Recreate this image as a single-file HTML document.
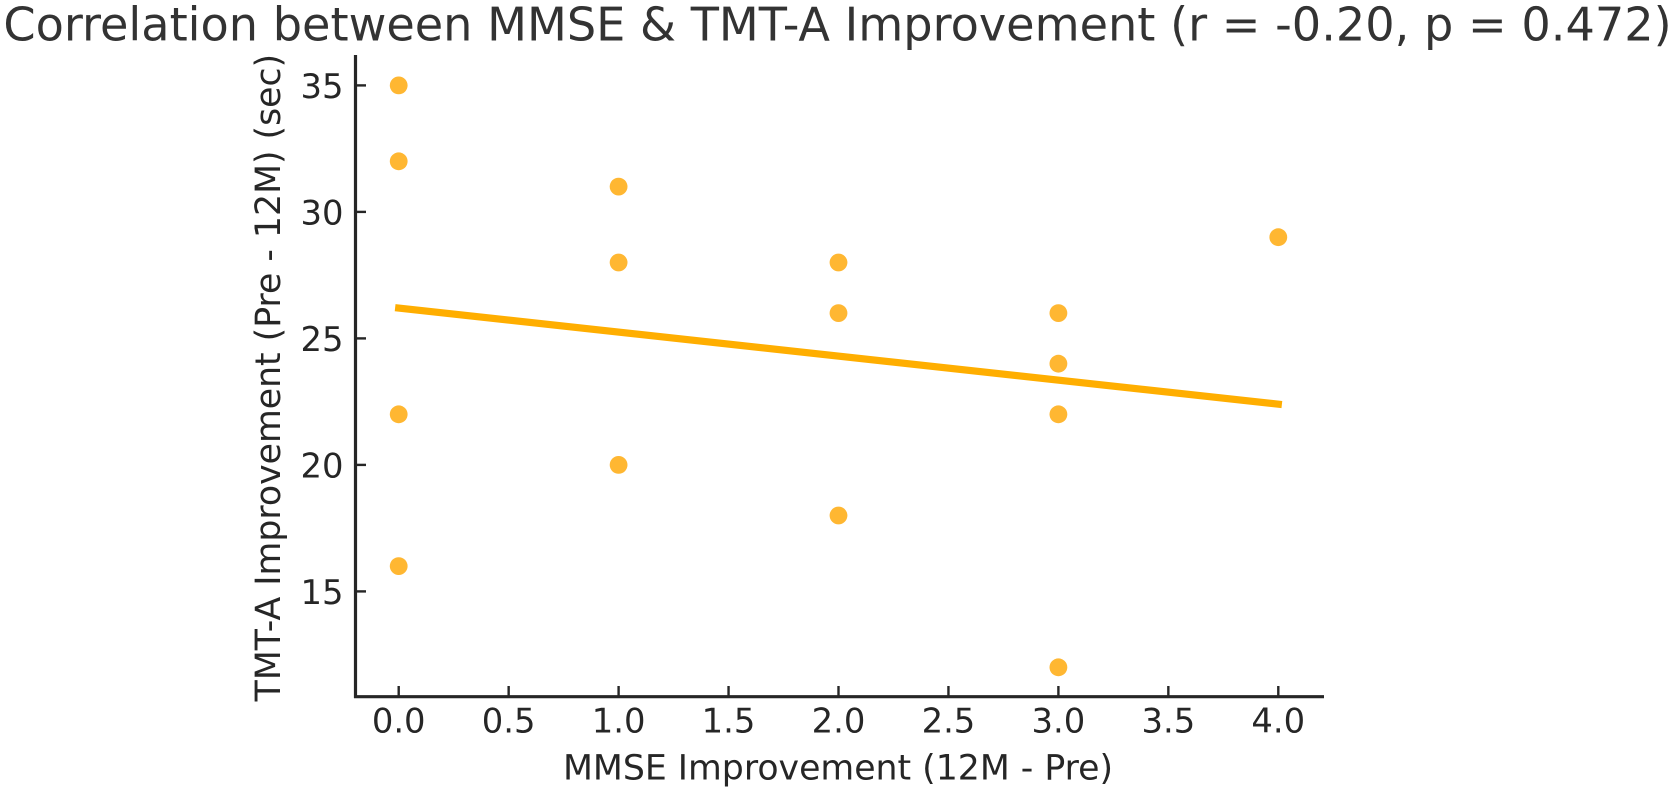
<!DOCTYPE html>
<html>
<head>
<meta charset="utf-8">
<style>
html,body{margin:0;padding:0;background:#fff;width:1675px;height:792px;overflow:hidden}
svg{display:block}
text{font-family:"DejaVu Sans","Liberation Sans",sans-serif}
</style>
</head>
<body>
<svg id="chart" xmlns="http://www.w3.org/2000/svg" width="1675" height="792" viewBox="0 0 1675 792">
<rect width="1675" height="792" fill="#fff"/>
<text x="837.5" y="40.3" text-anchor="middle" font-size="46.2" fill="#333">Correlation between MMSE &amp; TMT-A Improvement (r = -0.20, p = 0.472)</text>
<text x="838" y="779.3" text-anchor="middle" font-size="34.7" fill="#262626">MMSE Improvement (12M - Pre)</text>
<text transform="translate(280,377.6) rotate(-90)" text-anchor="middle" font-size="34.7" fill="#262626">TMT-A Improvement (Pre - 12M) (sec)</text>
<g id="ticks"></g>
<g id="marks"></g>
<line x1="355.5" y1="55" x2="355.5" y2="698" stroke="#262626" stroke-width="3.2"/>
<line x1="354" y1="696.7" x2="1324" y2="696.7" stroke="#262626" stroke-width="3.2"/>
</svg>
<script>
const xTickLabels = ["0.0","0.5","1.0","1.5","2.0","2.5","3.0","3.5","4.0"];
const yTickLabels = ["15","20","25","30","35"];
const pointMMSE = [0,0,0,0,1,1,1,2,2,2,3,3,3,3,4];
const pointTMT = [35,32,22,16,31,28,20,28,26,18,26,24,22,12,29];
const fitMMSE = [0,4];
const fitTMT = [26.2,22.4];

function xScale(v){ return 398.7 + v * 219.9; }
function yScale(v){ return 85.4 + (35 - v) * 25.3; }

const NS = "http://www.w3.org/2000/svg";
const ticksGroup = document.getElementById("ticks");
const marksGroup = document.getElementById("marks");

xTickLabels.forEach(function(label){
  const px = xScale(parseFloat(label));
  const tick = document.createElementNS(NS, "line");
  
  
  tick.setAttribute("x1", px);
  tick.setAttribute("x2", px);
  tick.setAttribute("y1", 696.7);
  tick.setAttribute("y2", 686);
  tick.setAttribute("stroke", "#262626");
  tick.setAttribute("stroke-width", 2.4);
  ticksGroup.appendChild(tick);
  const text = document.createElementNS(NS, "text");
  
  
  text.setAttribute("x", px);
  text.setAttribute("y", 732.7);
  text.setAttribute("text-anchor", "middle");
  text.setAttribute("font-size", 33.8);
  text.setAttribute("fill", "#262626");
  text.textContent = label;
  ticksGroup.appendChild(text);
});

yTickLabels.forEach(function(label){
  const py = yScale(parseFloat(label));
  const tick = document.createElementNS(NS, "line");
  
  
  tick.setAttribute("x1", 355.5);
  tick.setAttribute("x2", 366);
  tick.setAttribute("y1", py);
  tick.setAttribute("y2", py);
  tick.setAttribute("stroke", "#262626");
  tick.setAttribute("stroke-width", 2.4);
  ticksGroup.appendChild(tick);
  const text = document.createElementNS(NS, "text");
  
  
  text.setAttribute("x", 343.5);
  text.setAttribute("y", py + 12.6);
  text.setAttribute("text-anchor", "end");
  text.setAttribute("font-size", 33.8);
  text.setAttribute("fill", "#262626");
  text.textContent = label;
  ticksGroup.appendChild(text);
});

pointMMSE.forEach(function(xv, i){
  const dot = document.createElementNS(NS, "circle");
  
  
  dot.setAttribute("cx", xScale(xv));
  dot.setAttribute("cy", yScale(pointTMT[i]));
  dot.setAttribute("r", 8.9);
  dot.setAttribute("fill", "#FFB732");
  marksGroup.appendChild(dot);
});

const fit = document.createElementNS(NS, "line");


fit.setAttribute("x1", xScale(fitMMSE[0]));
fit.setAttribute("y1", yScale(fitTMT[0]));
fit.setAttribute("x2", xScale(fitMMSE[1]));
fit.setAttribute("y2", yScale(fitTMT[1]));
fit.setAttribute("stroke", "#FFAE00");
fit.setAttribute("stroke-width", 7.2);
fit.setAttribute("stroke-linecap", "square");
marksGroup.appendChild(fit);
</script>
</body>
</html>
